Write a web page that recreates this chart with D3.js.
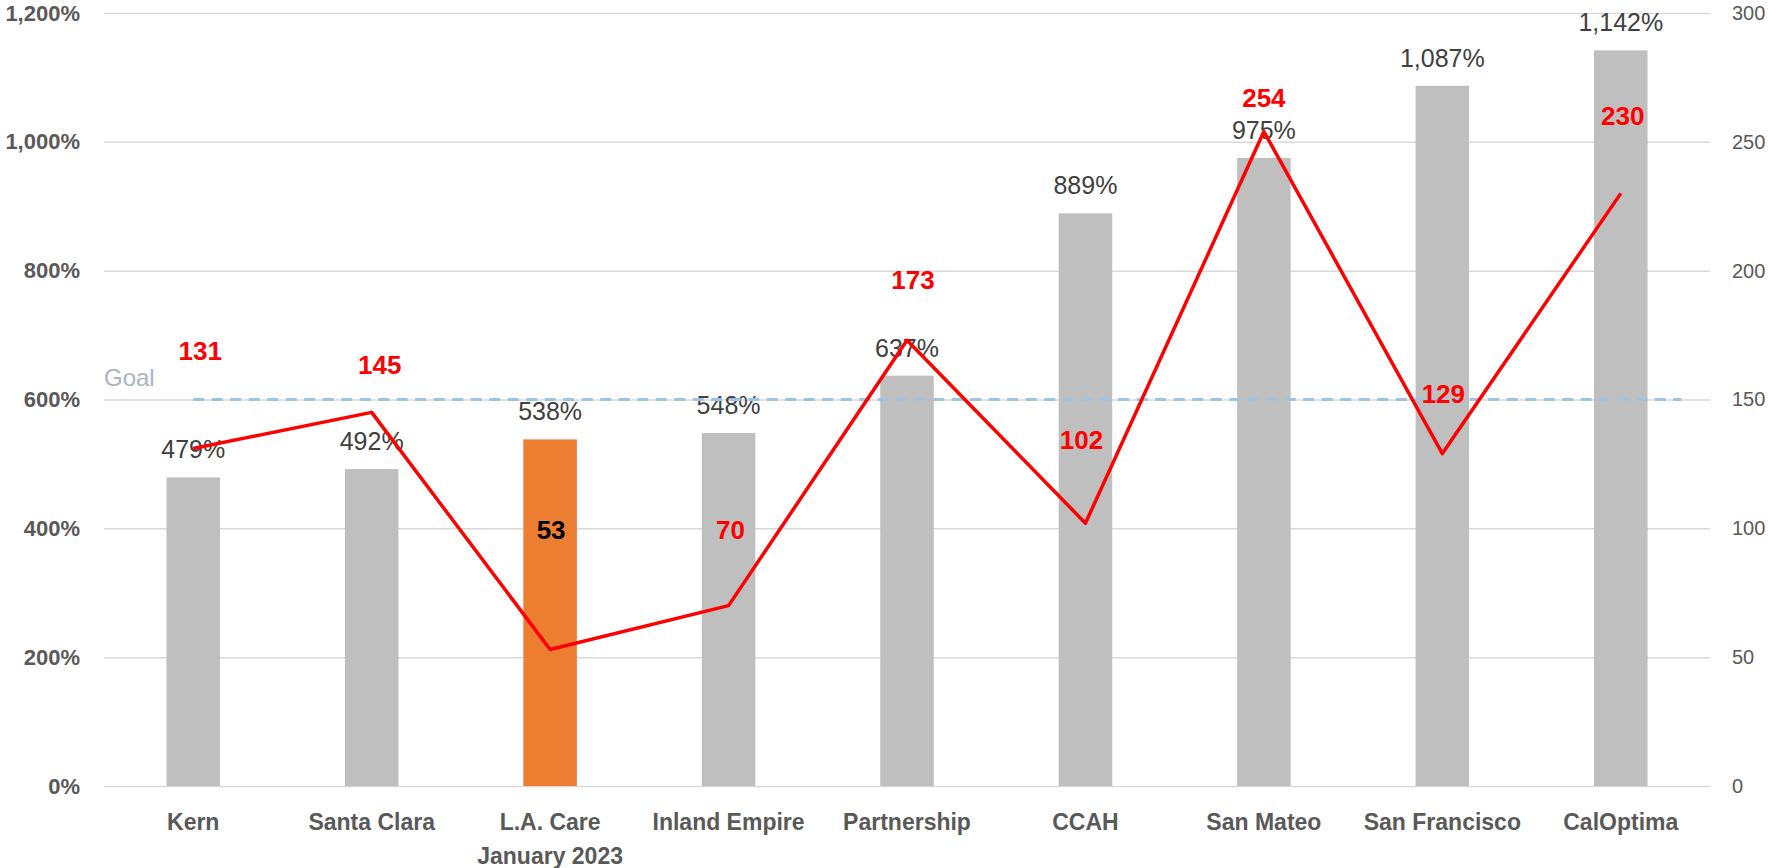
<!DOCTYPE html>
<html>
<head>
<meta charset="utf-8">
<script src="https://cdn.jsdelivr.net/npm/d3@7"></script>
<style>
  body { margin: 0; background: #fff; }
  svg { display: block; font-family: "Liberation Sans", Arial, sans-serif; }
</style>
</head>
<body>
<div id="chart"></div>
<script>
// data
var plans = ["Kern", "Santa Clara", "L.A. Care\nJanuary 2023", "Inland Empire", "Partnership", "CCAH", "San Mateo", "San Francisco", "CalOptima"];
var pctValues = [479, 492, 538, 548, 637, 889, 975, 1087, 1142];
var countValues = [131, 145, 53, 70, 173, 102, 254, 129, 230];
var leftTicks = [0, 200, 400, 600, 800, 1000, 1200];
var rightTicks = [0, 50, 100, 150, 200, 250, 300];
var goalValue = 600;
var highlightPlan = 2;

// hand placed label offsets (as in the original chart)
var labelDx = [7, 8, 1, 2, 6, -4, 0, 1, 2];
var labelDy = [-97, -47, -119, -76, -60, -83, -34, -60, -77];

var W = 1768, H = 868;
// note: "top" is taken by window.top, so use other names
var plotLeft = 104, plotRight = 1710, plotTop = 13, plotBottom = 786;

var svg = d3.select("#chart")
    .append("svg")
    .attr("width", W)
    .attr("height", H);

var x = d3.scaleBand()
    .domain(d3.range(plans.length))
    .range([plotLeft, plotRight])
    .paddingInner(0.7)
    .paddingOuter(0.35);

var yL = d3.scaleLinear().domain([0, 1200]).range([plotBottom, plotTop]);
var yR = d3.scaleLinear().domain([0, 300]).range([plotBottom, plotTop]);

var cx = function(i) { return x(i) + x.bandwidth() / 2; };

// left axis + gridlines
var gL = svg.append("g")
    .attr("transform", "translate(" + plotLeft + ",0)")
    .call(d3.axisLeft(yL)
        .tickValues(leftTicks)
        .tickSize(-(plotRight - plotLeft))
        .tickPadding(24)
        .tickFormat(function(d) { return d3.format(",")(d) + "%"; }));
gL.select(".domain").remove();
gL.selectAll("line").attr("stroke", "#d9d9d9").attr("stroke-width", 1.5);
gL.selectAll("text")
    .attr("fill", "#595959")
    .style("font-size", "22px")
    .style("font-weight", "bold");

// right axis
var gR = svg.append("g")
    .attr("transform", "translate(" + plotRight + ",0)")
    .call(d3.axisRight(yR).tickValues(rightTicks).tickSize(0).tickPadding(22));
gR.select(".domain").remove();
gR.selectAll("text")
    .attr("fill", "#595959")
    .style("font-size", "20px");

// category axis
var gX = svg.append("g")
    .attr("transform", "translate(0," + plotBottom + ")")
    .call(d3.axisBottom(x).tickSize(0).tickPadding(28).tickFormat(function(i) { return plans[i]; }));
gX.select(".domain").remove();
gX.selectAll("text")
    .attr("fill", "#595959")
    .style("font-size", "23px")
    .style("font-weight", "bold")
    .each(function(i) {
        var t = d3.select(this);
        var lines = plans[i].split("\n");
        t.text(null);
        lines.forEach(function(s, k) {
            t.append("tspan")
                .attr("x", 0)
                .attr("dy", k == 0 ? "0.71em" : "34px")
                .text(s);
        });
    });

// bars
svg.append("g")
    .selectAll("rect")
    .data(pctValues)
    .enter()
    .append("rect")
    .attr("x", function(d, i) { return x(i); })
    .attr("y", function(d) { return yL(d); })
    .attr("width", x.bandwidth())
    .attr("height", function(d) { return plotBottom - yL(d); })
    .attr("fill", function(d, i) { return i == highlightPlan ? "#ed7d31" : "#bfbfbf"; });

// bar labels
svg.append("g")
    .selectAll("text")
    .data(pctValues)
    .enter()
    .append("text")
    .attr("x", function(d, i) { return cx(i); })
    .attr("y", function(d) { return yL(d) - 19; })
    .attr("text-anchor", "middle")
    .attr("fill", "#404040")
    .style("font-size", "25px")
    .text(function(d) { return d3.format(",")(d) + "%"; });

// goal line
var n = plans.length - 1;
svg.append("line")
    .attr("x1", cx(0))
    .attr("x2", cx(n) + x.step() * 0.34)
    .attr("y1", yL(goalValue))
    .attr("y2", yL(goalValue))
    .attr("stroke", "#9dc3e6")
    .attr("stroke-width", 3)
    .attr("stroke-dasharray", "11,7.5");

svg.append("text")
    .attr("x", plotLeft)
    .attr("y", yL(goalValue) - 14)
    .attr("fill", "#aab4c3")
    .style("font-size", "24px")
    .text("Goal");

// count line
svg.append("path")
    .datum(countValues)
    .attr("fill", "none")
    .attr("stroke", "#ff0000")
    .attr("stroke-width", 3.5)
    .attr("stroke-linejoin", "round")
    .attr("d", d3.line()
        .x(function(d, i) { return cx(i); })
        .y(function(d) { return yR(d); }));

// count labels
svg.append("g")
    .selectAll("text")
    .data(countValues)
    .enter()
    .append("text")
    .attr("x", function(d, i) { return cx(i) + labelDx[i]; })
    .attr("y", function(d, i) { return yR(d) + labelDy[i] + 9; })
    .attr("text-anchor", "middle")
    .attr("fill", function(d, i) { return i == highlightPlan ? "#000" : "#ff0000"; })
    .style("font-size", "26px")
    .style("font-weight", "bold")
    .text(function(d) { return d; });
</script>
</body>
</html>
